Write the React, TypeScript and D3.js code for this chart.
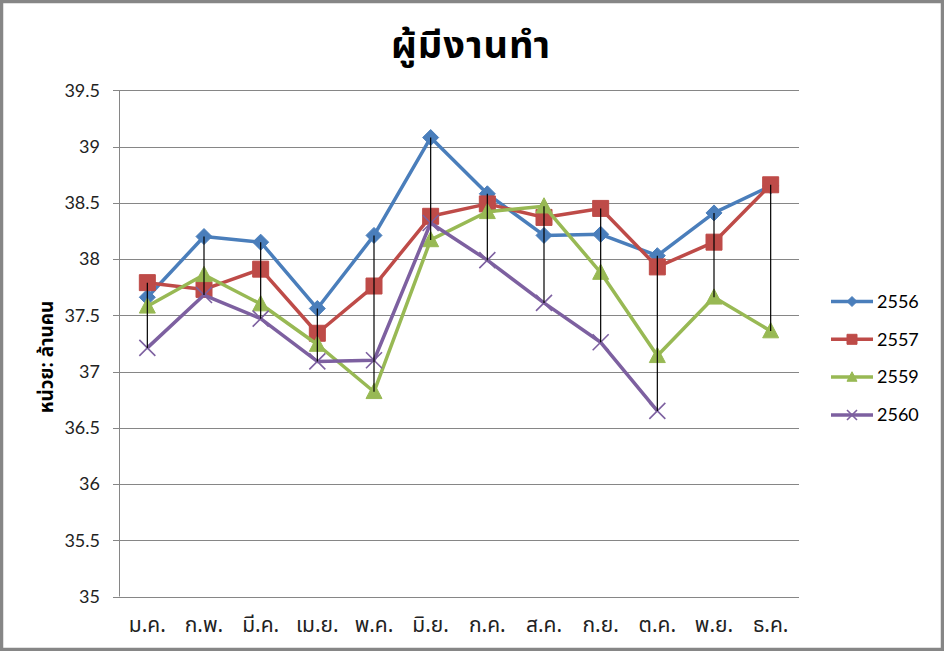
import React from "react";
import * as d3 from "d3";

const months = ["ม.ค.", "ก.พ.", "มี.ค.", "เม.ย.", "พ.ค.", "มิ.ย.", "ก.ค.", "ส.ค.", "ก.ย.", "ต.ค.", "พ.ย.", "ธ.ค."];
const yTicks = [35, 35.5, 36, 36.5, 37, 37.5, 38, 38.5, 39, 39.5];

const s2556 = [37.66, 38.2, 38.15, 37.56, 38.21, 39.08, 38.58, 38.21, 38.22, 38.03, 38.41, 38.65];
const s2557 = [37.79, 37.73, 37.91, 37.34, 37.76, 38.38, 38.49, 38.37, 38.45, 37.93, 38.15, 38.66];
const s2559 = [37.58, 37.86, 37.6, 37.24, 36.82, 38.17, 38.42, 38.47, 37.88, 37.14, 37.66, 37.36];
const s2560 = [37.21, 37.68, 37.47, 37.09, 37.1, 38.32, 37.99, 37.61, 37.26, 36.65, null, null];

const seriesNames = ["2556", "2557", "2559", "2560"];
const seriesColors = ["#4a7ebb", "#be4b48", "#98b954", "#7d60a0"];
const seriesMarkers = ["diamond", "square", "triangle", "x"];
const seriesValues = [s2556, s2557, s2559, s2560];

const W = 944;
const H = 651;
const M = { left: 119, right: 799, top: 90.3, bottom: 596.5 };

const FONT = "Tahoma, 'Noto Sans Thai', 'Lato', 'DejaVu Sans', sans-serif";
const NUMFONT = "Lato, 'Open Sans', sans-serif";

function markerPath(type: string, s: number): string {
  const h = s / 2;
  if (type === "diamond") return `M0,${-h}L${h},0L0,${h}L${-h},0Z`;
  if (type === "square") return `M${-h},${-h}H${h}V${h}H${-h}Z`;
  if (type === "triangle") return `M0,${-h * 1.05}L${h},${h * 0.85}L${-h},${h * 0.85}Z`;
  return `M${-h},${-h}L${h},${h}M${-h},${h}L${h},${-h}`;
}

function Marker({ type, color, size, x, y }: any) {
  const isX = type === "x";
  return (
    <path
      d={markerPath(type, size)}
      transform={`translate(${x},${y})`}
      fill={isX ? "none" : color}
      stroke={color}
      strokeWidth={isX ? 1.6 : 1}
    />
  );
}

export default function App() {
  const x = d3.scaleBand<string>().domain(months).range([M.left, M.right]);
  const y = d3.scaleLinear().domain([35, 39.5]).range([M.bottom, M.top]);
  const cx = (m: string) => (x(m) as number) + x.bandwidth() / 2;

  const line = d3
    .line<number | null>()
    .defined((d) => d != null)
    .x((_, i) => cx(months[i]))
    .y((d) => y(d as number));

  const hiLo = months.map((m, i) => {
    const vals = seriesValues.map((s) => s[i]).filter((v) => v != null) as number[];
    return { m, hi: d3.max(vals) as number, lo: d3.min(vals) as number };
  });

  const legendY = [301.5, 339.3, 377, 415];

  return (
    <svg width={W} height={H} style={{ position: "absolute", left: 0, top: 0 }}>
      <rect x={0} y={0} width={W} height={H} fill="#fff" />
      <rect x={1.5} y={1.5} width={W - 3} height={H - 3} fill="none" stroke="#868686" strokeWidth={3.5} />

      <text x={471} y={58} textAnchor="middle" fontFamily={FONT} fontWeight="bold" fontSize={38} letterSpacing={1} fill="#000">
        ผู้มีงานทำ
      </text>

      {yTicks.map((t) => (
        <g key={t}>
          <line x1={M.left - 6} x2={M.right} y1={Math.round(y(t)) + 0.5} y2={Math.round(y(t)) + 0.5} stroke="#868686" strokeWidth={1} />
          <text x={100} y={y(t)} dy="0.35em" textAnchor="end" fontFamily={NUMFONT} fontSize={18} fill="#222">
            {String(t)}
          </text>
        </g>
      ))}
      <line x1={M.left + 0.5} x2={M.left + 0.5} y1={M.top} y2={M.bottom} stroke="#868686" strokeWidth={1} />

      {months.map((m) => (
        <text key={m} x={cx(m)} y={632} textAnchor="middle" fontFamily={FONT} fontSize={21} fill="#222">
          {m}
        </text>
      ))}

      <text
        transform={`translate(53,357) rotate(-90)`}
        textAnchor="middle"
        fontFamily={FONT}
        fontWeight="bold"
        fontSize={19}
        fill="#000"
      >
        หน่วย: ล้านคน
      </text>

      {seriesValues.map((vals, si) => (
        <g key={seriesNames[si]}>
          <path d={line(vals) as string} fill="none" stroke={seriesColors[si]} strokeWidth={3.5} strokeLinejoin="round" />
          {vals.map((v, i) =>
            v == null ? null : (
              <Marker key={i} type={seriesMarkers[si]} color={seriesColors[si]} size={16} x={cx(months[i])} y={y(v)} />
            )
          )}
        </g>
      ))}

      {hiLo.map((d) => (
        <line key={d.m} x1={cx(d.m)} x2={cx(d.m)} y1={y(d.hi)} y2={y(d.lo)} stroke="#000" strokeWidth={1.2} />
      ))}

      {seriesNames.map((n, i) => (
        <g key={n}>
          <line x1={831} x2={873} y1={legendY[i]} y2={legendY[i]} stroke={seriesColors[i]} strokeWidth={3.5} />
          <Marker type={seriesMarkers[i]} color={seriesColors[i]} size={10} x={852} y={legendY[i]} />
          <text x={877} y={legendY[i]} dy="0.35em" fontFamily={NUMFONT} fontSize={18} fill="#000">
            {n}
          </text>
        </g>
      ))}
    </svg>
  );
}
